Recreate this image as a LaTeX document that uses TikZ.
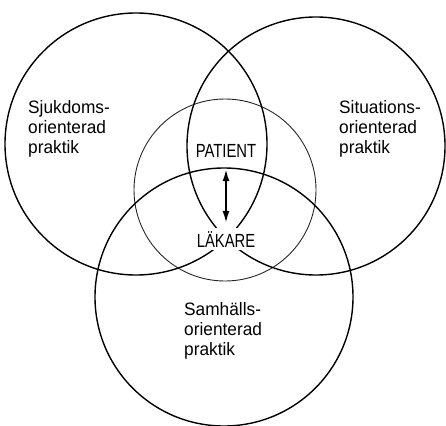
\documentclass[tikz,border=0pt]{standalone}
\usepackage{fontspec}
\setmainfont{Liberation Sans}
\newfontfamily\bodyfont[FakeStretch=0.96]{Liberation Sans}
\newfontfamily\capsfont[FakeStretch=0.78]{Liberation Sans}
\usetikzlibrary{positioning}
\usetikzlibrary{arrows.meta}

\tikzset{
  bigring/.style={line width=1.4pt},
  innerring/.style={line width=0.9pt, black!85},
  areatext/.style={anchor=north west, inner sep=0pt, align=left,
    font=\bodyfont\fontsize{18}{20}\selectfont},
  roletext/.style={anchor=base, inner sep=3pt,
    font=\capsfont\fontsize{19}{21}\selectfont},
  linkarrow/.style={line width=2.4pt, {Latex[length=13pt,width=7pt]}-{Latex[length=13pt,width=7pt]}}
}

\begin{document}
\begin{tikzpicture}[x=1pt,y=-1pt]
\useasboundingbox (0,0) rectangle (446,425);

% circle centres
\coordinate (sjuk) at (136,144);
\coordinate (sit) at (316,146);
\coordinate (samh) at (224,297);
\coordinate (mid) at (225,190);

\draw[innerring] (mid) circle (91pt);
\draw[bigring] (sjuk) circle (131pt);
\draw[bigring] (sit) circle (129pt);
\draw[bigring] (samh) circle (129pt);

% texts
\node[areatext] (sjuktext) at (28,100) {Sjukdoms-\\orienterad\\praktik};
\node[areatext] (sittext) at (339,100) {Situations-\\orienterad\\praktik};
\node[areatext] (samhtext) at (184,302) {Samhälls-\\orienterad\\praktik};

\node[roletext] (patient) at (226,157) {PATIENT};
\node[roletext, fill=white] (lakare) at (226,247) {LÄKARE};

\draw[linkarrow, shorten <=8pt, shorten >=4pt] (patient) -- (lakare);
\end{tikzpicture}
\end{document}
